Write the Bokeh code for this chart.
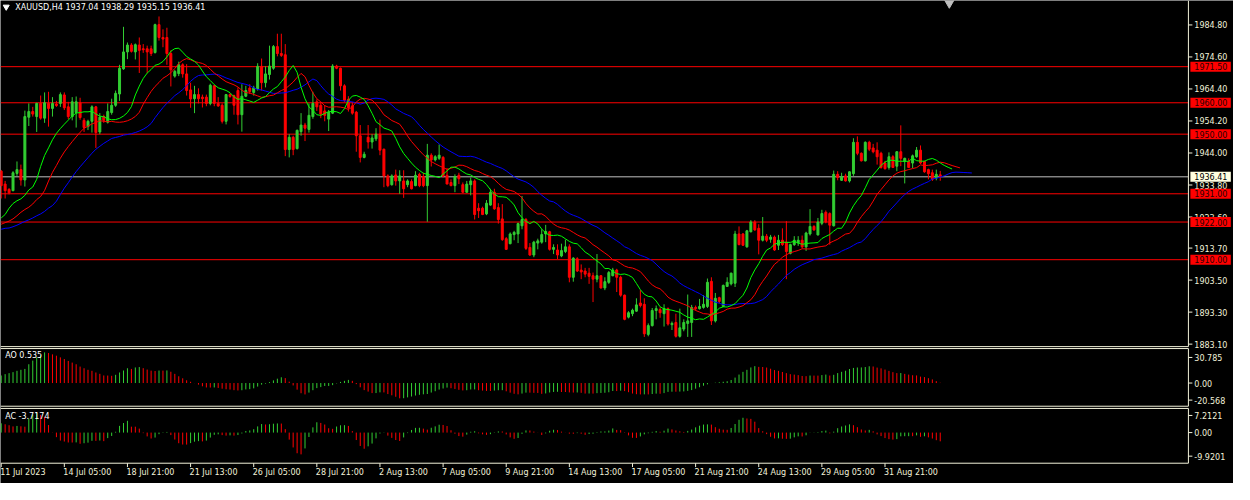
import numpy as np
from bokeh.plotting import figure
from bokeh.models import Range1d, ColumnDataSource
from bokeh.core.properties import value
from bokeh.embed import file_html
from bokeh.resources import INLINE

# ---------------- data ----------------
header_text = "XAUUSD,H4  1937.04 1938.29 1935.15 1936.41"

opens = [
    1938.2, 1934.1, 1932.4, 1932.0, 1937.5, 1938.7, 1935.4, 1955.4, 1957.2, 1955.6,
    1959.8, 1955.1, 1959.8, 1958.2, 1959.6, 1959.8, 1962.5, 1958.7, 1955.6, 1956.9,
    1960.0, 1954.4, 1952.4, 1954.1, 1958.7, 1950.7, 1955.6, 1953.8, 1956.9, 1959.2,
    1962.8, 1970.8, 1976.2, 1978.4, 1976.2, 1978.4, 1977.2, 1977.2, 1977.2, 1976.0,
    1984.9, 1980.8, 1980.8, 1975.7, 1968.5, 1969.3, 1972.1, 1969.2, 1964.1, 1961.3,
    1962.6, 1961.8, 1961.8, 1959.8, 1965.4, 1959.8, 1959.2, 1954.1, 1962.6, 1962.3,
    1963.9, 1956.2, 1962.1, 1964.7, 1963.3, 1964.4, 1971.6, 1966.4, 1969.0, 1971.0,
    1977.9, 1975.7, 1975.3, 1945.1, 1949.0, 1945.4, 1950.8, 1952.9, 1951.5, 1955.6,
    1960.3, 1959.2, 1957.4, 1954.8, 1956.7, 1971.7, 1971.0, 1965.4, 1961.1, 1959.0,
    1957.0, 1949.5, 1942.6, 1949.0, 1947.5, 1948.5, 1950.0, 1945.2, 1936.7, 1933.9,
    1937.0, 1935.1, 1935.1, 1933.9, 1934.9, 1933.6, 1937.2, 1936.5, 1933.6, 1943.3,
    1941.8, 1942.3, 1942.6, 1936.9, 1934.6, 1933.6, 1936.9, 1933.9, 1931.5, 1933.9,
    1935.1, 1926.4, 1926.4, 1924.6, 1927.4, 1931.5, 1926.6, 1923.0, 1916.7, 1915.1,
    1918.0, 1918.2, 1920.8, 1922.8, 1913.9, 1911.5, 1915.3, 1915.6, 1918.2, 1918.9,
    1913.3, 1913.1, 1911.2, 1912.6, 1914.1, 1904.4, 1910.3, 1906.7, 1906.4, 1905.7,
    1904.9, 1903.8, 1904.9, 1901.0, 1902.8, 1904.9, 1906.7, 1904.4, 1898.7, 1891.7,
    1892.8, 1893.6, 1896.2, 1895.8, 1886.2, 1889.0, 1893.8, 1894.1, 1892.8, 1894.4,
    1889.3, 1890.0, 1885.6, 1887.9, 1889.7, 1890.0, 1894.8, 1894.4, 1894.8, 1895.1,
    1903.1, 1890.5, 1897.9, 1895.1, 1901.5, 1902.3, 1902.5, 1918.2, 1918.2, 1914.1,
    1918.9, 1922.0, 1920.0, 1916.2, 1917.5, 1916.5, 1917.2, 1914.6, 1916.2, 1915.6,
    1912.0, 1914.8, 1915.4, 1916.2, 1914.1, 1918.2, 1920.6, 1917.9, 1921.6, 1925.1,
    1924.7, 1920.8, 1937.2, 1935.3, 1936.7, 1935.1, 1937.4, 1947.4, 1943.9, 1941.5,
    1947.4, 1945.6, 1944.9, 1943.9, 1940.8, 1939.4, 1942.8, 1939.8, 1944.4, 1941.3,
    1941.3, 1940.8, 1942.8, 1944.9, 1941.3, 1938.7, 1937.7, 1936.0, 1937.04,
]
highs = [
    1938.6, 1935.1, 1932.8, 1938.2, 1941.3, 1940.3, 1957.5, 1959.8, 1958.7, 1960.0,
    1962.3, 1963.3, 1963.5, 1961.8, 1960.6, 1963.3, 1963.3, 1960.3, 1961.8, 1962.0,
    1961.6, 1955.1, 1954.6, 1959.2, 1959.0, 1956.7, 1956.2, 1959.8, 1961.3, 1963.9,
    1972.1, 1984.2, 1979.2, 1979.0, 1978.9, 1980.8, 1978.7, 1978.2, 1978.2, 1985.2,
    1987.5, 1983.4, 1983.9, 1976.7, 1970.5, 1973.1, 1972.6, 1972.3, 1966.4, 1965.4,
    1964.6, 1962.6, 1962.6, 1966.1, 1965.7, 1961.8, 1959.8, 1962.8, 1963.0, 1962.6,
    1964.9, 1965.9, 1965.4, 1965.9, 1965.4, 1972.6, 1974.1, 1971.6, 1978.2, 1978.4,
    1982.0, 1982.0, 1978.7, 1950.0, 1949.5, 1951.5, 1956.7, 1953.6, 1959.8, 1963.5,
    1961.1, 1960.3, 1959.2, 1957.7, 1972.3, 1972.1, 1971.2, 1965.9, 1962.1, 1960.3,
    1957.4, 1952.9, 1944.4, 1952.9, 1950.0, 1951.9, 1954.6, 1945.4, 1937.2, 1937.2,
    1938.7, 1938.5, 1938.5, 1935.6, 1935.6, 1938.2, 1937.7, 1937.7, 1946.9, 1943.9,
    1943.3, 1946.7, 1943.0, 1939.2, 1935.6, 1937.2, 1937.7, 1934.6, 1935.1, 1936.2,
    1935.6, 1928.0, 1926.9, 1929.0, 1932.6, 1932.6, 1928.0, 1927.7, 1917.2, 1918.7,
    1919.2, 1921.8, 1930.3, 1923.3, 1915.3, 1916.0, 1916.7, 1919.7, 1921.1, 1919.2,
    1914.9, 1914.9, 1915.1, 1916.4, 1914.9, 1910.8, 1910.8, 1908.5, 1907.4, 1907.4,
    1905.9, 1911.8, 1905.1, 1904.4, 1906.4, 1907.4, 1907.1, 1904.9, 1898.9, 1893.6,
    1894.4, 1897.7, 1900.3, 1897.7, 1889.7, 1894.6, 1895.4, 1894.8, 1895.8, 1894.8,
    1890.3, 1892.8, 1894.4, 1891.0, 1898.9, 1895.6, 1895.4, 1897.5, 1898.7, 1904.0,
    1904.4, 1899.4, 1898.2, 1902.1, 1904.4, 1905.9, 1919.2, 1920.6, 1918.5, 1919.5,
    1922.6, 1922.6, 1921.3, 1923.6, 1918.2, 1917.9, 1917.7, 1917.9, 1920.0, 1922.3,
    1915.1, 1917.5, 1917.5, 1917.7, 1918.9, 1926.1, 1921.0, 1923.3, 1925.9, 1925.7,
    1925.1, 1938.4, 1938.2, 1937.7, 1937.4, 1938.2, 1948.7, 1949.3, 1944.2, 1947.7,
    1947.9, 1946.9, 1947.4, 1944.4, 1941.5, 1944.2, 1943.3, 1944.6, 1952.8, 1942.5,
    1942.3, 1943.5, 1945.9, 1946.4, 1941.5, 1939.0, 1938.7, 1938.7, 1938.29,
]
lows = [
    1929.5, 1929.5, 1930.8, 1931.8, 1936.7, 1933.6, 1933.3, 1952.6, 1955.6, 1950.7,
    1954.6, 1953.6, 1952.4, 1955.6, 1958.7, 1958.7, 1957.7, 1954.8, 1954.4, 1952.1,
    1954.6, 1950.7, 1951.3, 1950.5, 1945.6, 1950.0, 1953.6, 1953.4, 1956.2, 1958.7,
    1960.6, 1970.5, 1973.9, 1976.0, 1973.8, 1969.5, 1975.9, 1969.5, 1974.9, 1975.7,
    1979.8, 1977.7, 1972.1, 1965.2, 1968.0, 1968.5, 1968.0, 1962.3, 1958.4, 1956.7,
    1959.8, 1958.5, 1958.9, 1959.2, 1958.9, 1958.7, 1953.4, 1953.1, 1961.6, 1956.2,
    1953.1, 1950.8, 1961.8, 1962.8, 1962.3, 1963.9, 1963.9, 1964.9, 1967.4, 1970.5,
    1974.8, 1974.6, 1943.0, 1942.6, 1943.3, 1945.1, 1949.5, 1947.8, 1950.5, 1954.9,
    1957.4, 1955.1, 1954.1, 1951.0, 1956.4, 1970.7, 1963.9, 1960.3, 1957.2, 1956.2,
    1944.4, 1941.0, 1942.3, 1945.4, 1945.4, 1947.8, 1943.3, 1933.1, 1933.1, 1933.6,
    1933.6, 1931.0, 1929.7, 1933.1, 1932.4, 1933.4, 1933.1, 1933.1, 1922.1, 1939.7,
    1941.3, 1941.8, 1936.2, 1934.1, 1933.4, 1931.5, 1934.1, 1931.2, 1931.3, 1930.5,
    1922.8, 1923.3, 1924.2, 1924.2, 1927.2, 1925.9, 1921.5, 1916.0, 1913.1, 1914.9,
    1916.2, 1915.3, 1919.7, 1913.1, 1911.2, 1910.8, 1913.3, 1915.1, 1915.6, 1912.9,
    1911.8, 1910.2, 1910.8, 1912.1, 1902.8, 1903.0, 1906.1, 1903.8, 1904.4, 1902.3,
    1896.5, 1902.8, 1900.8, 1900.3, 1902.3, 1904.7, 1899.7, 1898.2, 1890.7, 1891.3,
    1892.0, 1893.4, 1894.8, 1885.4, 1885.6, 1888.7, 1891.0, 1891.5, 1888.7, 1889.0,
    1887.6, 1885.2, 1885.2, 1887.2, 1885.4, 1885.4, 1893.8, 1894.1, 1894.4, 1894.6,
    1889.2, 1890.0, 1896.1, 1894.9, 1901.3, 1901.8, 1901.3, 1914.6, 1914.4, 1913.8,
    1918.7, 1919.2, 1911.7, 1915.8, 1915.6, 1915.4, 1912.8, 1913.1, 1914.4, 1903.8,
    1911.7, 1914.4, 1914.4, 1913.6, 1912.8, 1917.7, 1919.2, 1917.7, 1921.0, 1921.6,
    1914.8, 1920.6, 1935.3, 1935.1, 1934.9, 1934.6, 1936.7, 1943.3, 1941.3, 1941.3,
    1944.6, 1943.9, 1940.3, 1939.0, 1938.7, 1938.7, 1939.2, 1938.2, 1939.8, 1934.3,
    1939.2, 1939.2, 1942.5, 1940.5, 1937.7, 1935.6, 1935.1, 1935.3, 1935.15,
]
closes = [
    1933.6, 1932.0, 1931.3, 1937.7, 1938.7, 1935.4, 1955.6, 1957.2, 1956.4, 1959.8,
    1955.1, 1960.0, 1958.2, 1959.8, 1959.1, 1962.6, 1958.4, 1955.6, 1960.3, 1960.3,
    1955.3, 1952.1, 1954.1, 1958.7, 1950.5, 1955.4, 1954.4, 1957.2, 1959.2, 1963.0,
    1971.0, 1976.2, 1978.4, 1976.4, 1978.5, 1976.7, 1976.9, 1976.2, 1975.7, 1984.9,
    1980.8, 1980.3, 1975.7, 1970.5, 1970.0, 1972.1, 1969.2, 1963.9, 1961.2, 1962.6,
    1961.3, 1961.3, 1959.8, 1965.6, 1959.8, 1959.0, 1954.1, 1962.6, 1962.0, 1959.2,
    1956.2, 1962.1, 1963.9, 1963.6, 1964.7, 1971.6, 1966.4, 1969.2, 1971.7, 1977.9,
    1975.7, 1975.1, 1945.1, 1949.0, 1945.1, 1951.2, 1952.9, 1951.9, 1956.0, 1959.8,
    1958.7, 1956.4, 1956.0, 1957.0, 1971.7, 1971.0, 1965.4, 1960.8, 1958.4, 1956.7,
    1949.5, 1942.6, 1943.6, 1947.5, 1948.8, 1950.0, 1944.9, 1936.7, 1933.6, 1936.7,
    1935.1, 1936.7, 1932.6, 1935.1, 1932.6, 1936.9, 1933.6, 1933.6, 1943.3, 1941.8,
    1942.8, 1943.3, 1936.7, 1934.1, 1933.6, 1936.5, 1935.8, 1931.5, 1934.1, 1935.1,
    1924.4, 1925.6, 1924.4, 1928.0, 1931.5, 1926.2, 1922.8, 1916.4, 1913.3, 1918.2,
    1918.7, 1921.5, 1922.8, 1913.6, 1911.5, 1915.6, 1916.0, 1918.0, 1919.0, 1913.3,
    1913.9, 1911.5, 1912.9, 1914.1, 1904.4, 1910.5, 1906.4, 1906.1, 1905.4, 1904.7,
    1903.8, 1904.9, 1901.0, 1903.0, 1905.9, 1906.7, 1904.4, 1898.7, 1891.0, 1893.1,
    1893.9, 1895.6, 1895.4, 1886.4, 1889.0, 1893.8, 1894.4, 1893.1, 1894.4, 1889.5,
    1889.7, 1885.6, 1888.3, 1890.0, 1890.5, 1894.8, 1894.4, 1895.1, 1895.8, 1902.8,
    1890.5, 1897.7, 1896.7, 1901.8, 1902.8, 1905.7, 1918.2, 1914.8, 1914.6, 1919.2,
    1922.0, 1919.5, 1916.2, 1917.5, 1916.2, 1917.2, 1913.1, 1916.2, 1914.8, 1912.6,
    1914.8, 1916.2, 1916.2, 1914.1, 1918.5, 1920.6, 1919.5, 1922.0, 1924.7, 1922.0,
    1921.0, 1937.2, 1936.2, 1936.4, 1935.1, 1938.0, 1947.4, 1943.9, 1941.5, 1947.4,
    1945.2, 1944.4, 1942.8, 1939.4, 1939.0, 1942.8, 1939.4, 1944.4, 1942.3, 1942.3,
    1939.4, 1943.1, 1944.9, 1940.8, 1938.0, 1937.4, 1935.6, 1937.2, 1936.41,
]

level_lines = [1971.50, 1960.00, 1950.00, 1931.00, 1922.00, 1910.00]
current_price = 1936.41
price_ticks = [1984.80, 1974.60, 1964.40, 1954.20, 1944.00, 1933.80,
               1923.60, 1913.70, 1903.50, 1893.30, 1883.10]
ao_ticks = [30.785, 0.0, -20.568]
ao_tick_labels = ["30.785", "0.00", "-20.568"]
ac_ticks = [7.2121, 0.0, -9.9201]
ac_tick_labels = ["7.2121", "0.00", "-9.9201"]
ao_text = "AO 0.535"
ac_text = "AC -3.7174"

time_tick_bars = [0, 16, 32, 48, 64, 80, 96, 112, 128, 144, 160, 176, 192, 208, 224]
time_tick_labels = ["11 Jul 2023", "14 Jul 05:00", "18 Jul 21:00", "21 Jul 13:00",
                    "26 Jul 05:00", "28 Jul 21:00", "2 Aug 13:00", "7 Aug 05:00",
                    "9 Aug 21:00", "14 Aug 13:00", "17 Aug 05:00", "21 Aug 21:00",
                    "24 Aug 13:00", "29 Aug 05:00", "31 Aug 21:00"]

# Alligator (SMMA of median price, shifted forward); leading values
lips_period, lips_shift, lips_lead, lips_seed = 5, 3, [1923.3, 1924.4, 1926.4], 1927.9
teeth_period, teeth_shift, teeth_lead, teeth_seed = 8, 5, [1921.3, 1921.8, 1922.3, 1923.0, 1924.0], 1925.1
jaw_period, jaw_shift = 13, 8
jaw_lead = [1919.7, 1920.0, 1920.1, 1920.5, 1921.0, 1921.6, 1922.2, 1922.7]
jaw_seed = 1923.3

# AO values of the first bars (before 34 bars of history exist)
ao_lead = [9.1, 10.7, 11.9, 13.1, 14.7, 15.9, 17.0, 22.6, 27.0, 30.9,
           33.7, 36.9, 36.1, 34.5, 32.9, 30.9, 28.9, 26.6, 24.6, 22.6,
           19.8, 17.8, 15.9, 14.7, 12.7, 11.1, 9.1, 9.0, 8.7, 9.9,
           12.7, 15.1, 17.8]
ac_lead = [3.9, 3.5, 3.1, 2.6]

# ---------------- derived series ----------------
o = np.array(opens); h = np.array(highs); l = np.array(lows); c = np.array(closes)
N = len(c)
idx = np.arange(N)
med = (h + l) / 2.0


def smma(seed, prices, n):
    out = [seed]
    for p_ in prices[1:]:
        out.append((out[-1] * (n - 1) + p_) / n)
    return out


def alligator(lead, seed, period, shift):
    vals = smma(seed, med, period)
    xs = list(range(len(lead))) + [i + shift for i in range(N)]
    return xs, list(lead) + vals


ao = np.zeros(N)
ao[:len(ao_lead)] = ao_lead
for k in range(len(ao_lead), N):
    ao[k] = med[k - 4:k + 1].mean() - med[k - 33:k + 1].mean()
ac = np.zeros(N)
ac[:len(ac_lead)] = ac_lead
for k in range(len(ac_lead), N):
    ac[k] = ao[k] - ao[k - 4:k + 1].mean()

GREEN = "#32CD32"
RED = "#FF0000"
BG = "#000000"
FG = "#F2F2DA"
FONT = value("DejaVu Sans")
FS = value("8px")


def updown(arr):
    cols = [GREEN]
    for k in range(1, len(arr)):
        cols.append(GREEN if arr[k] > arr[k - 1] else RED)
    return cols


# ---------------- one canvas, MT4-like panes ----------------
# reference canvas is 1250 x 500 px; "px" ranges address that layout directly
W, H = 1233, 483
REF_W, REF_H = 1250.0, 500.0
BAR_PX = 4.0          # reference pixels per bar
BAR0_PX = 0.7         # reference x of bar 0
AXIS_X = 1204.3       # right border / price axis line
MAIN_BOTTOM = 358.3
AO_TOP, AO_BOTTOM = 360.3, 420.0
AC_TOP, AC_BOTTOM = 422.3, 479.0

# price pane scale: 1984.80 at y=25.3, 3.249 px per dollar
P_REF, P_Y, P_SCALE = 1984.80, 25.3, 3.249
AO_ZERO_Y, AO_SCALE = 396.0, 0.86
AC_ZERO_Y, AC_SCALE = 447.3, 2.46

x_lo = -BAR0_PX / BAR_PX
x_hi = (REF_W - BAR0_PX) / BAR_PX
p = figure(frame_width=W, frame_height=H, output_backend="svg", toolbar_location=None,
           x_range=Range1d(x_lo, x_hi),
           y_range=Range1d(P_REF - (REF_H - P_Y) / P_SCALE, P_REF + P_Y / P_SCALE),
           x_axis_location=None, y_axis_location=None,
           background_fill_color=BG, border_fill_color=BG, outline_line_color=None,
           min_border=0)
p.grid.visible = False
p.extra_x_ranges = {"px": Range1d(0, REF_W)}
p.extra_y_ranges = {
    "px": Range1d(REF_H, 0),
    "ao": Range1d((AO_ZERO_Y - REF_H) / AO_SCALE, AO_ZERO_Y / AO_SCALE),
    "ac": Range1d((AC_ZERO_Y - REF_H) / AC_SCALE, AC_ZERO_Y / AC_SCALE),
}
axis_bar = (AXIS_X - BAR0_PX) / BAR_PX

# horizontal level lines and current price line (stop at the axis line)
for lv in level_lines:
    p.segment(x0=[x_lo], y0=[lv], x1=[axis_bar], y1=[lv], line_color=RED, line_width=1)
p.segment(x0=[x_lo], y0=[current_price], x1=[axis_bar], y1=[current_price],
          line_color="#C0C0C0", line_width=1)

# candles
up = c >= o
src = ColumnDataSource(dict(x=idx, h=h, l=l, top=np.maximum(o, c), bot=np.minimum(o, c),
                            color=np.where(up, GREEN, RED)))
p.segment(x0="x", y0="h", x1="x", y1="l", source=src, line_color="color", line_width=1)
p.vbar(x="x", top="top", bottom="bot", width=0.5, source=src,
       fill_color="color", line_color="color", line_width=1)

# alligator
for lead, seed, period, shift, col in [(jaw_lead, jaw_seed, jaw_period, jaw_shift, "#0000FF"),
                                       (teeth_lead, teeth_seed, teeth_period, teeth_shift, "#FF0000"),
                                       (lips_lead, lips_seed, lips_period, lips_shift, "#00FF00")]:
    xs, ys = alligator(lead, seed, period, shift)
    p.line(xs, ys, line_color=col, line_width=1)

# AO / AC histograms
ao_src = ColumnDataSource(dict(x=idx, y0=np.zeros(N), y1=ao, color=updown(ao)))
p.segment(x0="x", y0="y0", x1="x", y1="y1", source=ao_src, line_color="color",
          line_width=1, y_range_name="ao")
ac_src = ColumnDataSource(dict(x=idx, y0=np.zeros(N), y1=ac, color=updown(ac)))
p.segment(x0="x", y0="y0", x1="x", y1="y1", source=ac_src, line_color="color",
          line_width=1, y_range_name="ac")

# pane borders
p.multi_line(xs=[[0, AXIS_X, AXIS_X], [0, AXIS_X, AXIS_X, 0], [0, AXIS_X, AXIS_X, 0]],
             ys=[[MAIN_BOTTOM, MAIN_BOTTOM, 0],
                 [AO_TOP, AO_TOP, AO_BOTTOM, AO_BOTTOM],
                 [AC_TOP, AC_TOP, AC_BOTTOM, AC_BOTTOM]],
             line_color=FG, line_width=1, x_range_name="px", y_range_name="px")

# price axis ticks and labels
p.segment(x0=[AXIS_X] * len(price_ticks), y0=price_ticks, x1=[AXIS_X + 4] * len(price_ticks),
          y1=price_ticks, line_color=FG, line_width=1, x_range_name="px")
p.text(x=[AXIS_X + 6] * len(price_ticks), y=price_ticks, text=[f"{t:.2f}" for t in price_ticks],
       text_color=FG, text_font=FONT, text_font_size=FS, text_align="left",
       text_baseline="middle", x_range_name="px")
for ticks, labels, rng in [(ao_ticks, ao_tick_labels, "ao"), (ac_ticks, ac_tick_labels, "ac")]:
    p.segment(x0=[AXIS_X] * len(ticks), y0=ticks, x1=[AXIS_X + 4] * len(ticks), y1=ticks,
              line_color=FG, line_width=1, x_range_name="px", y_range_name=rng)
    p.text(x=[AXIS_X + 6] * len(ticks), y=ticks, text=labels, text_color=FG, text_font=FONT,
           text_font_size=FS, text_align="left", text_baseline="middle",
           x_range_name="px", y_range_name=rng)

# price labels of the horizontal lines
half_box = 5.2 / P_SCALE
p.quad(left=[AXIS_X + 2] * len(level_lines), right=[AXIS_X + 43] * len(level_lines),
       top=[v + half_box for v in level_lines], bottom=[v - half_box for v in level_lines],
       fill_color=RED, line_color=None, x_range_name="px")
p.text(x=[AXIS_X + 6] * len(level_lines), y=level_lines, text=[f"{v:.2f}" for v in level_lines],
       text_color="#2A0000", text_font=FONT, text_font_size=FS, text_align="left",
       text_baseline="middle", x_range_name="px")
p.quad(left=[AXIS_X + 2], right=[AXIS_X + 43], top=[current_price + half_box],
       bottom=[current_price - half_box], fill_color="#FFFFE0", line_color=None, x_range_name="px")
p.text(x=[AXIS_X + 6], y=[current_price], text=[f"{current_price:.2f}"], text_color="#000000",
       text_font=FONT, text_font_size=FS, text_align="left", text_baseline="middle",
       x_range_name="px")

# time axis
p.segment(x0=time_tick_bars, y0=[AC_BOTTOM] * len(time_tick_bars), x1=time_tick_bars,
          y1=[AC_BOTTOM + 4] * len(time_tick_bars), line_color=FG, line_width=1, y_range_name="px")
p.text(x=time_tick_bars, y=[488.3] * len(time_tick_bars), text=time_tick_labels, x_offset=-1,
       text_color=FG, text_font=FONT, text_font_size=FS, text_align="left",
       text_baseline="middle", y_range_name="px")

# header, pane captions, chart-shift marker
p.scatter(x=[5.8], y=[6.6], marker="inverted_triangle", size=6, fill_color="#FFFFFF",
          line_color="#FFFFFF", x_range_name="px", y_range_name="px")
p.text(x=[15], y=[7.3], text=[header_text], text_color="#FFFFFF", text_font=FONT,
       text_font_size=FS, text_align="left", text_baseline="middle",
       x_range_name="px", y_range_name="px")
p.text(x=[4.7], y=[368.0], text=[ao_text], text_color="#FFFFFF", text_font=FONT,
       text_font_size=FS, text_align="left", text_baseline="middle",
       x_range_name="px", y_range_name="px")
p.text(x=[4.7], y=[431.0], text=[ac_text], text_color="#FFFFFF", text_font=FONT,
       text_font_size=FS, text_align="left", text_baseline="middle",
       x_range_name="px", y_range_name="px")
p.scatter(x=[N + 1.3], y=[1.5], marker="inverted_triangle", size=11, fill_color="#BEBEBE",
          line_color="#BEBEBE", y_range_name="px")

open("out.html", "w").write(file_html(p, INLINE))
